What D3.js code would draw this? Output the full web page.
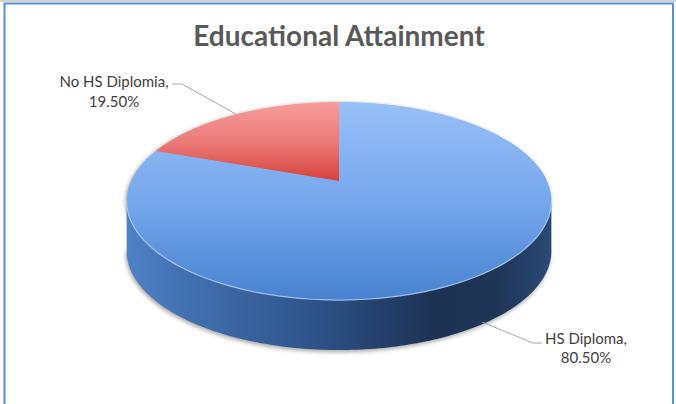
<!DOCTYPE html>
<html>
<head>
<meta charset="utf-8">
<script src="https://cdn.jsdelivr.net/npm/d3@7"></script>
<style>
  html, body { margin: 0; padding: 0; background: #ffffff; }
  svg { display: block; }
</style>
</head>
<body>
<svg id="chart" width="676" height="404"></svg>
<script>
// Educational attainment shares (percent)
const categories = ["HS Diploma", "No HS Diplomia"];
const values = [80.5, 19.5];
const labelNames = ["HS Diploma,", "No HS Diplomia,"];
const labelValues = ["80.50%", "19.50%"];
const title = "Educational Attainment";

const W = 676, H = 404;
const svg = d3.select("#chart");
const defs = svg.append("defs");

// Frame
svg.append("line").attr("x1", 0).attr("x2", W).attr("y1", 1).attr("y2", 1)
  .attr("stroke", "#d4d4d4").attr("stroke-width", 2);
svg.append("path")
  .attr("d", `M4.5,${H + 2} V3.5 H673 V${H + 2}`)
  .attr("fill", "none").attr("stroke", "#5b8ed6").attr("stroke-width", 2);

// Title
svg.append("text")
  .attr("x", 339).attr("y", 46)
  .attr("text-anchor", "middle")
  .attr("font-family", "Lato, 'Open Sans', sans-serif")
  .attr("font-weight", "bold").attr("font-size", 28)
  .attr("fill", "#595959")
  .text(title);

// Perspective projection of a tilted disc. Angle a is clockwise from 12 o'clock.
const cx = 339, cy = 181;   // projected centre of the top face
const A = 208, B = 95, k = 0.202, depth = 50;
function project(a, drop = 0) {
  const u = Math.sin(a), d = Math.cos(a);
  const w = 1 + k * d;
  return [cx + A * u / w, cy - B * d / w + drop];
}

const pie = d3.pie().sort(null).startAngle(0).endAngle(2 * Math.PI);
const arcs = pie(values);
const colors = ["blue", "red"];

const lineGen = d3.line();
function sample(a0, a1, drop = 0, n = 120) {
  return d3.range(n + 1).map(i => project(a0 + (a1 - a0) * i / n, drop));
}

// Gradients
function linGrad(id, x1, y1, x2, y2, stops) {
  const g = defs.append("linearGradient").attr("id", id)
    .attr("gradientUnits", "userSpaceOnUse")
    .attr("x1", x1).attr("y1", y1).attr("x2", x2).attr("y2", y2);
  stops.forEach(([o, c]) => g.append("stop").attr("offset", o).attr("stop-color", c));
}
linGrad("topBlue", 0, 102, 0, 300, [[0, "#98bff8"], [0.5, "#76a7ec"], [1, "#4782d0"]]);
linGrad("topRed", 0, 102, 0, 182, [[0, "#f69d9b"], [0.5, "#ec7a77"], [1, "#d5403b"]]);
linGrad("sideBlue", 127, 0, 552, 0, [
  [0, "#4e82c6"], [0.12, "#4473b4"], [0.45, "#2d5288"], [0.72, "#1d3253"],
  [0.88, "#1f3657"], [1, "#2b4a76"]
]);

// Soft shadow filter
const blur = defs.append("filter").attr("id", "soft")
  .attr("x", "-10%").attr("y", "-10%").attr("width", "120%").attr("height", "130%");
blur.append("feGaussianBlur").attr("stdDeviation", 2.2);

// Silhouette angles where the side wall is visible (left/right extremes)
const aLeftExt = 2 * Math.PI - (Math.PI / 2 + Math.asin(k));
const aRightExt = Math.PI / 2 + Math.asin(k);

const g = svg.append("g");

// Shadow under the whole disc
const topRing = sample(0, 2 * Math.PI, 0, 240);
const sideFront = sample(aRightExt, aLeftExt, depth, 160);
g.append("path")
  .attr("d", lineGen(topRing.concat(sample(aRightExt, aLeftExt, depth + 1, 160))) + "Z")
  .attr("fill", "#000").attr("opacity", 0.35)
  .attr("transform", "translate(-1,1)")
  .attr("filter", "url(#soft)");

// Side wall (only the front half faces the viewer)
g.append("path")
  .attr("d", lineGen(sample(aRightExt, aLeftExt, 0, 160).concat(sideFront.slice().reverse())) + "Z")
  .attr("fill", "url(#sideBlue)");

// Top faces of the slices
arcs.forEach((s, i) => {
  const pts = [[cx, cy]].concat(sample(s.startAngle, s.endAngle, 0, 200));
  g.append("path")
    .attr("d", lineGen(pts) + "Z")
    .attr("fill", colors[i] === "blue" ? "url(#topBlue)" : "url(#topRed)");
});

// Light bevel along the front rim
g.append("path")
  .attr("d", lineGen(sample(aRightExt, aLeftExt, 0, 160)))
  .attr("fill", "none").attr("stroke", "#b4d0f7").attr("stroke-width", 1.2)
  .attr("opacity", 0.8);

// Data labels with leader lines
const labelFont = "Lato, 'Open Sans', sans-serif";
const leaderColor = "#a6a6a6";

// HS Diploma: anchored at the lower rim of its slice
{
  const s = arcs[0];
  const mid = (s.startAngle + s.endAngle) / 2;
  const p = project(mid, depth - 2);
  svg.append("polyline")
    .attr("points", [p, [533, 343], [542, 343]].map(q => q.join(",")).join(" "))
    .attr("fill", "none").attr("stroke", leaderColor).attr("stroke-width", 1);
  const t = svg.append("text").attr("font-family", labelFont).attr("font-size", 15)
    .attr("fill", "#404040").attr("text-anchor", "middle");
  t.append("tspan").attr("x", 586).attr("y", 344).text(labelNames[0]);
  t.append("tspan").attr("x", 586).attr("y", 363).text(labelValues[0]);
}

// No HS Diplomia: anchored at the outer top rim of its slice
{
  const s = arcs[1];
  const mid = (s.startAngle + s.endAngle) / 2;
  const p = project(mid, 0);
  svg.append("polyline")
    .attr("points", [[172, 84], [182, 84], p].map(q => q.join(",")).join(" "))
    .attr("fill", "none").attr("stroke", leaderColor).attr("stroke-width", 1);
  const t = svg.append("text").attr("font-family", labelFont).attr("font-size", 15)
    .attr("fill", "#404040").attr("text-anchor", "middle");
  t.append("tspan").attr("x", 114).attr("y", 87).text(labelNames[1]);
  t.append("tspan").attr("x", 114).attr("y", 107).text(labelValues[1]);
}
</script>
</body>
</html>
